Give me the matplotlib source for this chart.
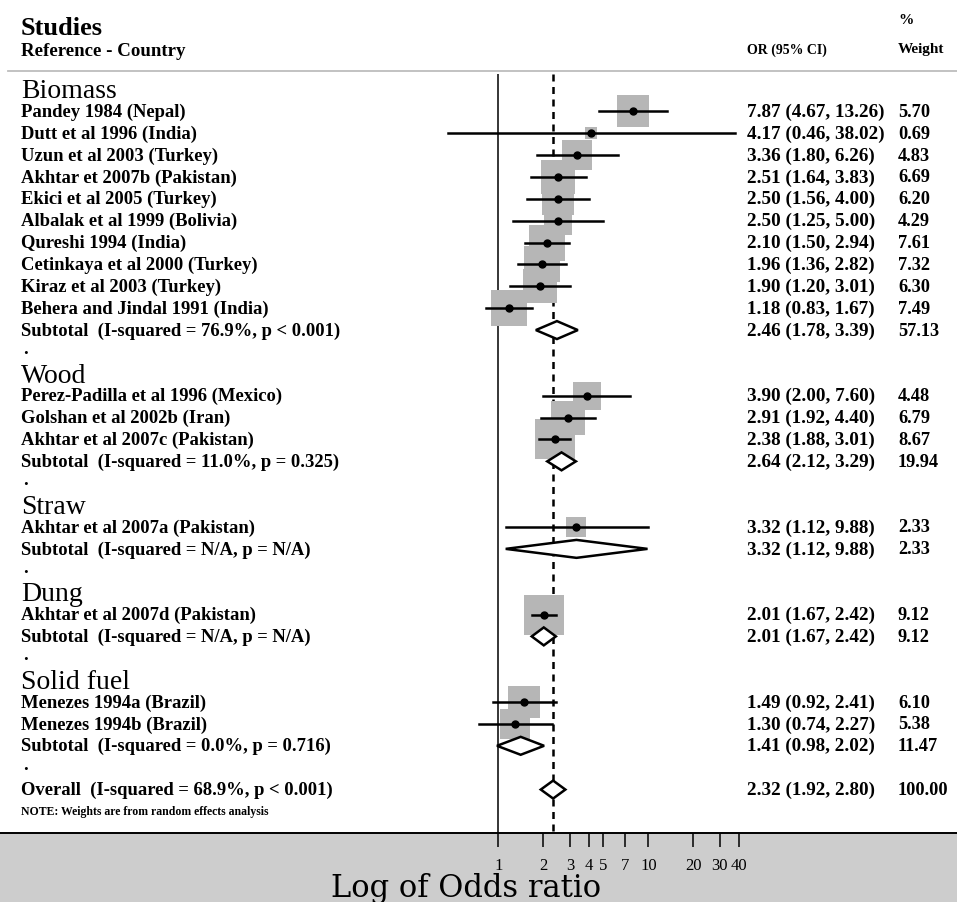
import numpy as np
import matplotlib.pyplot as plt

# data
groups = ["Biomass", "Wood", "Straw", "Dung", "Solid fuel"]

study_names = [
    "Pandey 1984 (Nepal)", "Dutt et al 1996 (India)", "Uzun et al 2003 (Turkey)",
    "Akhtar et 2007b (Pakistan)", "Ekici et al 2005 (Turkey)", "Albalak et al 1999 (Bolivia)",
    "Qureshi 1994 (India)", "Cetinkaya et al 2000 (Turkey)", "Kiraz et al 2003 (Turkey)",
    "Behera and Jindal 1991 (India)",
    "Perez-Padilla et al 1996 (Mexico)", "Golshan et al 2002b (Iran)", "Akhtar et al 2007c (Pakistan)",
    "Akhtar et al 2007a (Pakistan)",
    "Akhtar et al 2007d (Pakistan)",
    "Menezes 1994a (Brazil)", "Menezes 1994b (Brazil)",
]
study_group = [0, 0, 0, 0, 0, 0, 0, 0, 0, 0, 1, 1, 1, 2, 3, 4, 4]
study_or = [7.87, 4.17, 3.36, 2.51, 2.50, 2.50, 2.10, 1.96, 1.90, 1.18, 3.90, 2.91, 2.38, 3.32, 2.01, 1.49, 1.30]
study_lo = [4.67, 0.46, 1.80, 1.64, 1.56, 1.25, 1.50, 1.36, 1.20, 0.83, 2.00, 1.92, 1.88, 1.12, 1.67, 0.92, 0.74]
study_hi = [13.26, 38.02, 6.26, 3.83, 4.00, 5.00, 2.94, 2.82, 3.01, 1.67, 7.60, 4.40, 3.01, 9.88, 2.42, 2.41, 2.27]
study_w = [5.70, 0.69, 4.83, 6.69, 6.20, 4.29, 7.61, 7.32, 6.30, 7.49, 4.48, 6.79, 8.67, 2.33, 9.12, 6.10, 5.38]

sub_labels = [
    "Subtotal  (I-squared = 76.9%, p < 0.001)",
    "Subtotal  (I-squared = 11.0%, p = 0.325)",
    "Subtotal  (I-squared = N/A, p = N/A)",
    "Subtotal  (I-squared = N/A, p = N/A)",
    "Subtotal  (I-squared = 0.0%, p = 0.716)",
]
sub_or = [2.46, 2.64, 3.32, 2.01, 1.41]
sub_lo = [1.78, 2.12, 1.12, 1.67, 0.98]
sub_hi = [3.39, 3.29, 9.88, 2.42, 2.02]
sub_w = [57.13, 19.94, 2.33, 9.12, 11.47]

overall_label = "Overall  (I-squared = 68.9%, p < 0.001)"
overall_or, overall_lo, overall_hi, overall_w = 2.32, 1.92, 2.80, 100.00

tick_vals = [1, 2, 3, 4, 5, 7, 10, 20, 30, 40]
tick_labels = ["1", "2", "3", "4", "5", "7", "10", "20", "30", "40"]

plt.rcParams['font.family'] = ['Liberation Serif', 'DejaVu Serif']

fig = plt.figure(figsize=(9.57, 9.03), dpi=100, facecolor='#cdcdcd')
ax = fig.add_axes([0, 69 / 903, 1, 834 / 903])
ax.set_facecolor('white')
ax.set_xscale('log')
ax.set_xlim(10 ** (-498.3 / 150), 10 ** ((957 - 498.3) / 150))
y_top = -90.4 / 21.88
y_bot = (834 - 90.4) / 21.88
ax.set_ylim(y_bot, y_top)

tr = ax.get_yaxis_transform()
x_lab, x_or, x_w = 21 / 957, 747 / 957, 898 / 957
fs_lab, fs_or, fs_w = 13.4, 13.8, 13.2

# header
ax.text(x_lab, -2.85, "Studies", transform=tr, fontsize=19, fontweight='bold', va='center')
ax.text(x_lab, -1.8, "Reference - Country", transform=tr, fontsize=13.6, fontweight='bold', va='center')
ax.text(x_or, -1.85, "OR (95% CI)", transform=tr, fontsize=10, fontweight='bold', va='center')
ax.text(x_w, -3.2, "%", transform=tr, fontsize=11, fontweight='bold', va='center')
ax.text(x_w, -1.85, "Weight", transform=tr, fontsize=11, fontweight='bold', va='center')
ax.plot([8 / 957, 1], [-0.82, -0.82], transform=tr, color='#bdbdbd', lw=1.3)

# reference lines
ax.vlines(1, -0.7, y_bot, color='black', lw=1.1)
ax.vlines(overall_or, -0.7, y_bot, color='black', lw=1.8, linestyles=(0, (2.8, 2.2)))


def diamond(k, est, lo, hi):
    h = 0.41
    ax.fill([lo, est, hi, est, lo], [k, k - h, k, k + h, k], facecolor='white',
            edgecolor='black', lw=1.8, zorder=4)


def row_text(k, label, est, lo, hi, w):
    ax.text(x_lab, k, label, transform=tr, fontsize=fs_lab, fontweight='bold', va='center')
    ax.text(x_or, k, f"{est:.2f} ({lo:.2f}, {hi:.2f})", transform=tr, fontsize=fs_or,
            fontweight='bold', va='center')
    ax.text(x_w, k, f"{w:.2f}", transform=tr, fontsize=fs_w, fontweight='bold', va='center')


k = 0
for g, gname in enumerate(groups):
    ax.text(x_lab, k + 0.06, gname, transform=tr, fontsize=20, va='center')
    k += 1
    for i in range(len(study_names)):
        if study_group[i] != g:
            continue
        side = 13.25 * np.sqrt(study_w[i]) * 0.72
        ax.scatter(study_or[i], k, marker='s', s=side ** 2, color='#b6b6b6', lw=0, zorder=2)
        ax.plot([study_lo[i], study_hi[i]], [k, k], color='black', lw=1.8, zorder=3)
        ax.plot(study_or[i], k, 'o', color='black', ms=5, zorder=3)
        row_text(k, study_names[i], study_or[i], study_lo[i], study_hi[i], study_w[i])
        k += 1
    diamond(k, sub_or[g], sub_lo[g], sub_hi[g])
    row_text(k, sub_labels[g], sub_or[g], sub_lo[g], sub_hi[g], sub_w[g])
    k += 1
    ax.text(x_lab + 0.002, k - 0.15, ".", transform=tr, fontsize=fs_lab, fontweight='bold', va='center')
    k += 1

diamond(k, overall_or, overall_lo, overall_hi)
row_text(k, overall_label, overall_or, overall_lo, overall_hi, overall_w)
k += 1
ax.text(x_lab, k, "NOTE: Weights are from random effects analysis", transform=tr,
        fontsize=8.5, fontweight='bold', va='center')

# axis
for s in ['top', 'left', 'right']:
    ax.spines[s].set_visible(False)
ax.spines['bottom'].set_linewidth(1.4)
ax.set_yticks([])
ax.set_xticks(tick_vals)
ax.set_xticklabels(tick_labels)
ax.minorticks_off()
ax.tick_params(axis='x', direction='out', length=10, width=1.1, pad=7, labelsize=12)
fig.text(466 / 957, 6 / 903, "Log of Odds ratio", fontsize=22, family=['DejaVu Serif'],
         ha='center', va='baseline')

fig.savefig("out.png", dpi=100)
